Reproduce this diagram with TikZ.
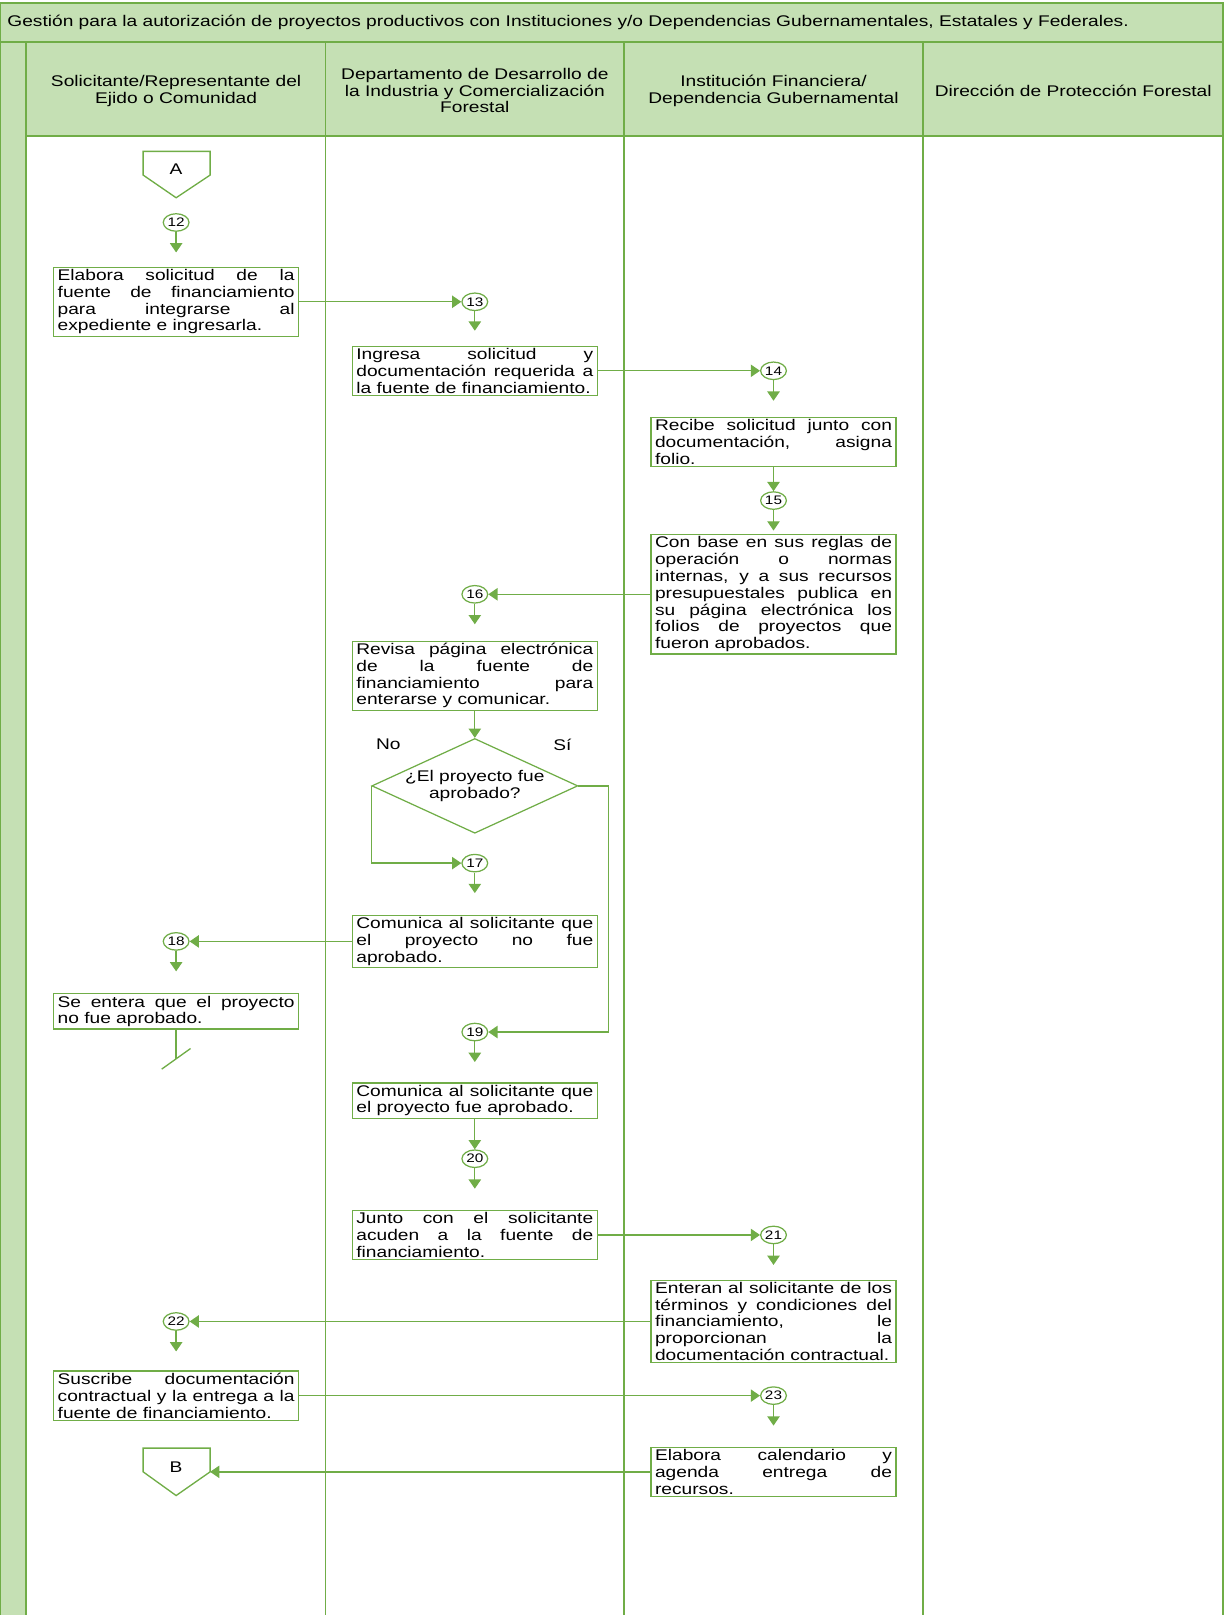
\documentclass[tikz,border=0pt]{standalone}
\usepackage{fontspec}
\setmainfont{Liberation Sans}[FakeStretch=1.24]
\usetikzlibrary{shapes.geometric,arrows.meta}
\definecolor{verde}{RGB}{112,173,71}
\definecolor{verdeclaro}{RGB}{197,224,180}
\newcommand{\letra}{\fontsize{15}{16.3}\selectfont}
\newcommand{\justo}{\tolerance=10000\relax\hyphenpenalty=10000\relax}

\begin{document}
\begin{tikzpicture}[x=1pt,y=-1pt,
    carril/.style={draw=verde,line width=1.8pt},
    caja/.style={draw=verde,line width=1.2pt,fill=white,minimum width=238pt,
      text width=230pt,inner xsep=4pt,inner ysep=2pt,align=justify,
      font=\letra\justo},
    decision/.style={diamond,draw=verde,line width=1.2pt,fill=white,
      minimum width=200pt,minimum height=92pt,inner sep=0pt,align=center,font=\letra},
    numero/.style={ellipse,draw=verde,line width=1.2pt,fill=white,minimum width=25pt,
      minimum height=17pt,inner sep=0pt,font=\fontsize{12}{13}\selectfont},
    cabecera/.style={align=center,font=\letra},
    flecha/.style={draw=verde,line width=1.3pt,-{Triangle[length=9pt,width=12pt]}},
    linea/.style={draw=verde,line width=1.3pt}]
  \useasboundingbox (0,0) rectangle (1189,1568);

  % carriles
  \fill[verdeclaro] (0,3) rectangle (1187,132);
  \fill[verdeclaro] (0,132) rectangle (25,1568);
  \draw[carril] (0,1568) -- (0,3) -- (1187,3) -- (1187,1568);
  \draw[carril] (0,41) -- (1187,41);
  \draw[carril] (25,132) -- (1187,132);
  \foreach \x in {25,316,606,896}
    \draw[carril] (\x,41) -- (\x,1568);

  \node[anchor=west,inner sep=0pt,font=\letra] (titulo) at (7,22)
    {Gestión para la autorización de proyectos productivos con Instituciones y/o Dependencias Gubernamentales, Estatales y Federales.};
  \node[cabecera] (sol) at (171,88) {Solicitante/Representante del\\Ejido o Comunidad};
  \node[cabecera] (dep) at (461,88) {Departamento de Desarrollo de\\la Industria y Comercialización\\Forestal};
  \node[cabecera] (inst) at (751,88) {Institución Financiera/\\Dependencia Gubernamental};
  \node[cabecera] (dir) at (1042,88) {Dirección de Protección Forestal};

  % conectores de pagina
  \draw[linea] (139,147) -- (204,147) -- (204,170) -- (171,192) -- (139,170) -- cycle;
  \node[font=\letra] (A) at (171,164) {A};
  \draw[linea] (139,1406) -- (204,1406) -- (204,1429) -- (171,1452) -- (139,1429) -- cycle;
  \node[font=\letra] (B) at (171,1424) {B};
  \coordinate (Bder) at (204,1429);

  % actividades
  \node[caja] (b1) at (171,293) {Elabora solicitud de la\linebreak fuente de financiamiento\linebreak para integrarse al\linebreak expediente e ingresarla.};
  \node[caja] (b2) at (461,360) {Ingresa solicitud y\linebreak documentación requerida a\linebreak la fuente de financiamiento.};
  \node[caja] (b3) at (751,429) {Recibe solicitud junto con\linebreak documentación, asigna\linebreak folio.};
  \node[caja] (b4) at (751,577) {Con base en sus reglas de\linebreak operación o normas\linebreak internas, y a sus recursos\linebreak presupuestales publica en\linebreak su página electrónica los\linebreak folios de proyectos que\linebreak fueron aprobados.};
  \node[caja] (b5) at (461,656) {Revisa página electrónica\linebreak de la fuente de\linebreak financiamiento para\linebreak enterarse y comunicar.};
  \node[decision] (d1) at (461,763) {\makebox[0pt]{¿El proyecto fue}\\\makebox[0pt]{aprobado?}};
  \node[font=\letra] (no) at (377,723) {No};
  \node[font=\letra] (si) at (546,723) {Sí};
  \node[caja] (b6) at (461,914) {Comunica al solicitante que\linebreak el proyecto no fue\linebreak aprobado.};
  \node[caja] (b7) at (171,982) {Se entera que el proyecto\linebreak no fue aprobado.};
  \node[caja] (b8) at (461,1068.5) {Comunica al solicitante que\linebreak el proyecto fue aprobado.};
  \node[caja] (b9) at (461,1199) {Junto con el solicitante\linebreak acuden a la fuente de\linebreak financiamiento.};
  \node[caja] (b10) at (751,1283) {Enteran al solicitante de los\linebreak términos y condiciones del\linebreak financiamiento, le\linebreak proporcionan la\linebreak documentación contractual.};
  \node[caja] (b11) at (171,1355) {Suscribe documentación\linebreak contractual y la entrega a la\linebreak fuente de financiamiento.};
  \node[caja] (b12) at (751,1429) {Elabora calendario y\linebreak agenda entrega de\linebreak recursos.};

  % numeros
  \node[numero] (c12) at (171,216) {12};
  \node[numero] (c13) at (461,293) {13};
  \node[numero] (c14) at (751,360) {14};
  \node[numero] (c15) at (751,486) {15};
  \node[numero] (c16) at (461,577) {16};
  \node[numero] (c17) at (461,838) {17};
  \node[numero] (c18) at (171,914) {18};
  \node[numero] (c19) at (461,1002) {19};
  \node[numero] (c20) at (461,1125) {20};
  \node[numero] (c21) at (751,1199) {21};
  \node[numero] (c22) at (171,1283) {22};
  \node[numero] (c23) at (751,1355) {23};

  % flujo
  \draw[flecha] (c12.south) -- ++(0,20) coordinate (p12);
  \draw[flecha] (b1) -- (c13);
  \draw[flecha] (c13.south) -- ++(0,19) coordinate (p13);
  \draw[flecha] (b2) -- (c14);
  \draw[flecha] (c14.south) -- ++(0,20) coordinate (p14);
  \draw[flecha] (b3) -- (c15);
  \draw[flecha] (c15.south) -- ++(0,20) coordinate (p15);
  \draw[flecha] (b4) -- (c16);
  \draw[flecha] (c16.south) -- ++(0,20) coordinate (p16);
  \draw[flecha] (b5) -- (d1);
  \draw[flecha] (d1.west) |- (c17);
  \draw[flecha] (c17.south) -- ++(0,20) coordinate (p17);
  \draw[flecha] (b6) -- (c18);
  \draw[flecha] (c18.south) -- ++(0,20) coordinate (p18);
  \coordinate (fin) at (171,1028);
  \draw[linea] (b7) -- (fin);
  \draw[linea] (157,1038) -- (185,1018);
  \draw[flecha] (d1.east) -- ++(29,0) coordinate (sigue) |- (c19);
  \draw[flecha] (c19.south) -- ++(0,20) coordinate (p19);
  \draw[flecha] (b8) -- (c20);
  \draw[flecha] (c20.south) -- ++(0,20) coordinate (p20);
  \draw[flecha] (b9) -- (c21);
  \draw[flecha] (c21.south) -- ++(0,20) coordinate (p21);
  \draw[flecha] (b10) -- (c22);
  \draw[flecha] (c22.south) -- ++(0,20) coordinate (p22);
  \draw[flecha] (b11) -- (c23);
  \draw[flecha] (c23.south) -- ++(0,20) coordinate (p23);
  \draw[flecha] (b12) -- (Bder);
\end{tikzpicture}
\end{document}
